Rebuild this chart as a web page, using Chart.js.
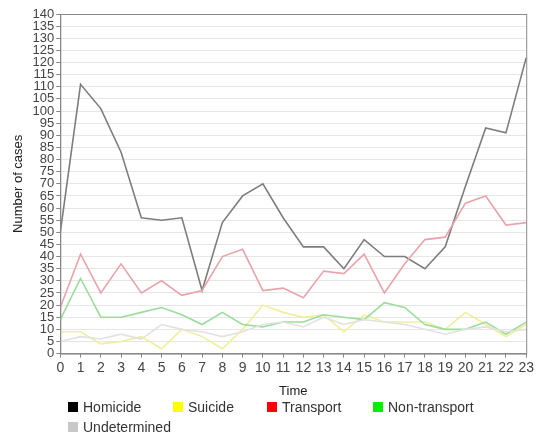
<!DOCTYPE html>
<html>
<head>
<meta charset="utf-8">
<script src="https://cdn.jsdelivr.net/npm/chart.js@4/dist/chart.umd.min.js"></script>
<style>
  body { margin: 0; background: #fff; font-family: "Liberation Sans", Arial, sans-serif; }
  #wrap { position: relative; width: 536px; height: 435px; }
  #legend {
    position: absolute; left: 68px; top: 399px;
    display: grid; grid-template-columns: 105px 94px 106px 110px;
    row-gap: 4px; font-size: 14px; color: #333;
  }
  #legend .item { display: flex; align-items: center; height: 16px; white-space: nowrap; }
  #legend .box { width: 10px; height: 10px; margin-right: 5px; }
</style>
</head>
<body>
<div id="wrap">
  <canvas id="chart" width="536" height="400"></canvas>
  <div id="legend"></div>
</div>
<script>
// uren van de dag
var hours = ['0','1','2','3','4','5','6','7','8','9','10','11','12','13','14','15','16','17','18','19','20','21','22','23'];

var homicide     = [50, 111, 101, 83, 56, 55, 56, 26, 54, 65, 70, 56, 44, 44, 35, 47, 40, 40, 35, 44, 69, 93, 91, 122];
var suicide      = [9, 9, 4, 5, 7, 2, 10, 7, 2, 10, 20, 17, 15, 16, 9, 16, 13, 13, 13, 10, 17, 12, 7, 12];
var transport    = [19, 41, 25, 37, 25, 30, 24, 26, 40, 43, 26, 27, 23, 34, 33, 41, 25, 37, 47, 48, 62, 65, 53, 54];
var nonTransport = [14, 31, 15, 15, 17, 19, 16, 12, 17, 12, 11, 13, 13, 16, 15, 14, 21, 19, 12, 10, 10, 13, 8, 13];
var undetermined = [5, 7, 6, 8, 6, 12, 10, 9, 7, 9, 12, 13, 11, 15, 12, 14, 13, 12, 10, 8, 10, 11, 9, 10];

var seriesNames = ['Homicide', 'Suicide', 'Transport', 'Non-transport', 'Undetermined'];
var seriesData  = [homicide, suicide, transport, nonTransport, undetermined];
var lineColors  = ['#7d7d7d', '#efef9a', '#e9a3ab', '#9cdc9c', '#e2e2e2'];
var boxColors   = ['#000000', '#ffff00', '#ff0000', '#00ee00', '#c8c8c8'];

/**
* Rand om het plotgebied (boven en rechts).
**/
var frame = {
  id: 'frame',
  afterDatasetsDraw(chart){
    var a = chart.chartArea, ctx = chart.ctx;
    ctx.save();
    ctx.strokeStyle = '#8a8a8a';
    ctx.lineWidth = 1;
    ctx.strokeRect(a.left + 0.5, a.top + 0.5, a.right - a.left, a.bottom - a.top);
    ctx.restore();
  }
};

var datasets = [];
seriesNames.forEach((name, i) => {
  datasets.push({
    label: name,
    data: seriesData[i],
    borderColor: lineColors[i],
    backgroundColor: boxColors[i],
    borderWidth: 1.6,
    pointRadius: 0,
    tension: 0,
    fill: false,
    order: seriesNames.length - i
  });
});

var font = { family: '"Liberation Sans", Arial, sans-serif' };

new Chart(document.getElementById('chart'), {
  type: 'line',
  data: { labels: hours, datasets: datasets },
  options: {
    responsive: false,
    animation: false,
    devicePixelRatio: 1,
    layout: { padding: { top: 14, right: 8, left: 11, bottom: 1 } },
    plugins: { legend: { display: false }, tooltip: { enabled: false } },
    scales: {
      x: {
        offset: false,
        grid: { display: true, drawOnChartArea: false, drawTicks: true, tickLength: 4, color: '#888' },
        border: { color: '#888' },
        ticks: { autoSkip: false, maxRotation: 0, padding: 2, color: '#444', font: Object.assign({ size: 14 }, font) },
        title: { display: true, text: 'Time', color: '#222', padding: { top: 5, bottom: 0 }, font: Object.assign({ size: 13 }, font) }
      },
      y: {
        min: 0,
        max: 140,
        grid: { color: '#e6e6e6', tickLength: 4, tickColor: '#888' },
        border: { color: '#888' },
        ticks: { stepSize: 5, autoSkip: false, padding: 2, color: '#444', font: Object.assign({ size: 13 }, font) },
        title: { display: true, text: 'Number of cases', color: '#222', padding: { top: 0, bottom: 4 }, font: Object.assign({ size: 13 }, font) }
      }
    }
  },
  plugins: [frame]
});

// legenda onder de grafiek
var legend = document.getElementById('legend');
seriesNames.forEach((name, i) => {
  var item = document.createElement('div');
  item.className = 'item';
  item.innerHTML = '<span class="box" style="background:' + boxColors[i] + '"></span>' + name;
  legend.appendChild(item);
});
</script>
</body>
</html>
